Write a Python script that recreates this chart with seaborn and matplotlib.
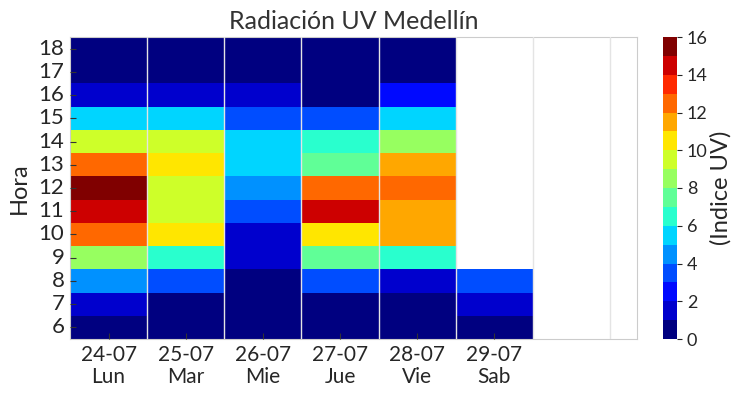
import numpy as np
import pandas as pd
import seaborn as sns
import matplotlib.pyplot as plt

# UV index per hour (6h..18h) for each day
horas = list(range(6, 19))
dias = ["24-07\nLun", "25-07\nMar", "26-07\nMie", "27-07\nJue", "28-07\nVie", "29-07\nSab"]
lun = [0, 1, 4, 8, 12, 14, 15, 12, 9, 5, 1, 0, 0]
mar = [0, 0, 3, 6, 10, 9, 9, 10, 9, 5, 1, 0, 0]
mie = [0, 0, 0, 1, 1, 3, 4, 5, 5, 3, 1, 0, 0]
jue = [0, 0, 3, 7, 10, 14, 12, 7, 6, 3, 0, 0, 0]
vie = [0, 0, 1, 6, 11, 11, 12, 11, 8, 5, 2, 0, 0]
sab = [0, 1, 3] + [np.nan] * 10

df = pd.DataFrame({d: v for d, v in zip(dias, [lun, mar, mie, jue, vie, sab])}, index=horas)
df = df.iloc[::-1]  # 18h on top

sns.set_style("whitegrid")
plt.rcParams["font.family"] = ["Lato", "DejaVu Sans"]

fig = plt.figure(figsize=(7.43, 3.95), dpi=100)
ax = fig.add_axes([70 / 743, 56 / 395, 567 / 743, 302 / 395])
cax = fig.add_axes([663 / 743, 56 / 395, 14 / 743, 302 / 395])

cmap = plt.get_cmap("jet", 16)
sns.heatmap(df, ax=ax, cbar_ax=cax, cmap=cmap, vmin=0, vmax=16,
            cbar_kws={"ticks": range(0, 17, 2)})

ax.set_xlim(0, 7.35)
ax.set_xticks(np.arange(len(dias)) + 0.5)
ax.set_xticklabels(dias, rotation=0, fontsize=15, linespacing=1.15)
ax.set_yticks(np.arange(len(horas)) + 0.5)
ax.set_yticklabels(df.index, rotation=0, fontsize=16)
ax.set_xticks(range(1, 8), minor=True)
ax.grid(False)
ax.grid(True, which="minor", axis="x", color="#e4e4e4", lw=1)
ax.set_axisbelow(False)
ax.tick_params(which="major", left=True, bottom=True, direction="in", length=4,
               color="#333333", pad=4)
ax.tick_params(which="minor", length=0)
for s in ax.spines.values():
    s.set_visible(True)
    s.set_color("#cccccc")

ax.set_ylabel("Hora", fontsize=17, labelpad=6)
ax.set_title("Radiación UV Medellín", fontsize=18, color="#333333")

cax.tick_params(labelsize=13)
cax.set_ylabel("(Indice UV)", fontsize=17, labelpad=2)
cbar = ax.collections[0].colorbar
cbar.outline.set_edgecolor("#cccccc")

plt.savefig("out.png", dpi=100)
